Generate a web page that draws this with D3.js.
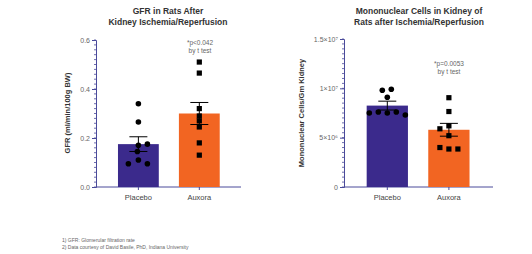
<!DOCTYPE html>
<html lang="en">
<head>
    <meta charset="UTF-8">
    <title>GFR and Mononuclear Cells</title>
    <script src="https://d3js.org/d3.v7.min.js"></script>
    <style>
        body { margin: 0; background: #fff; }
        text { font-family: "Liberation Sans", Arial, sans-serif; }
    </style>
</head>
<body>
    <script>
        const groups = ["Placebo", "Auxora"];
        const colors = ["#3b2a8c", "#f26522"];

        // GFR (ml/min/100g BW)
        const gfrMean = [0.175, 0.300];
        const gfrSem = [0.030, 0.045];
        const gfrPlacebo = [0.34, 0.265, 0.17, 0.175, 0.145, 0.11, 0.095, 0.095];
        const gfrAuxora = [0.51, 0.465, 0.32, 0.29, 0.27, 0.245, 0.18, 0.13];
        const gfrTicks = [0, 0.2, 0.4, 0.6];

        // Mononuclear cells / Gm kidney
        const cellMean = [8.25e6, 5.8e6];
        const cellSem = [0.45e6, 0.65e6];
        const cellPlacebo = [9.8e6, 9.9e6, 9.1e6, 7.5e6, 7.6e6, 7.5e6, 7.6e6, 7.3e6];
        const cellAuxora = [9.05e6, 7.65e6, 5.9e6, 6.2e6, 5.2e6, 4.0e6, 3.85e6, 3.85e6];
        const cellTicks = [0, 5e6, 1e7, 1.5e7];
        const cellTickLabels = ["0", "5×10⁶", "1×10⁷", "1.5×10⁷"];

        const footnotes = [
            "1)  GFR: Glomerular filtration rate",
            "2)  Data courtesy of David Basile, PhD, Indiana University"
        ];

        const svg = d3.select("body").append("svg")
            .attr("width", 532)
            .attr("height", 254);

        const axisColor = "#4a4a9a";

        function drawPanel(cfg) {
            const g = svg.append("g");
            const y = d3.scaleLinear().domain([0, cfg.max]).range([cfg.bottom, cfg.top]);
            const x = d3.scaleBand().domain(groups).range([cfg.left, cfg.right])
                .paddingInner(cfg.padIn).paddingOuter(cfg.padOut);

            // minor ticks
            const minor = d3.range(0, cfg.max + cfg.minorStep / 2, cfg.minorStep);
            g.selectAll(".minor").data(minor).enter().append("line")
                .attr("x1", cfg.axisX - 2).attr("x2", cfg.axisX)
                .attr("y1", d => y(d)).attr("y2", d => y(d))
                .attr("stroke", axisColor).attr("stroke-width", 0.8);

            const yAxis = g.append("g")
                .attr("transform", `translate(${cfg.axisX},0)`)
                .call(d3.axisLeft(y).tickValues(cfg.ticks).tickSize(4).tickPadding(2)
                    .tickFormat((d, i) => cfg.labels[i]));
            yAxis.select(".domain").attr("stroke", axisColor);
            yAxis.selectAll(".tick line").attr("stroke", axisColor);
            yAxis.selectAll("text").attr("fill", "#666").style("font-size", "7px");

            const xAxis = g.append("g")
                .attr("transform", `translate(0,${cfg.bottom})`)
                .call(d3.axisBottom(x).tickSize(3).tickPadding(5));
            xAxis.select(".domain").attr("stroke", axisColor)
                .attr("d", `M${cfg.axisX},0H${cfg.axisEnd}`);
            xAxis.selectAll(".tick line").attr("stroke", axisColor);
            xAxis.selectAll("text").attr("fill", "#444").style("font-size", "7.5px");

            // bars
            g.selectAll(".bar").data(groups).enter().append("rect")
                .attr("x", d => x(d))
                .attr("y", (d, i) => y(cfg.mean[i]))
                .attr("width", x.bandwidth())
                .attr("height", (d, i) => y(0) - y(cfg.mean[i]))
                .attr("fill", (d, i) => colors[i]);

            // error bars
            groups.forEach((grp, i) => {
                const cx = x(grp) + x.bandwidth() / 2;
                const hi = y(cfg.mean[i] + cfg.sem[i]);
                const lo = y(cfg.mean[i] - cfg.sem[i]);
                g.append("line").attr("x1", cx).attr("x2", cx).attr("y1", hi).attr("y2", lo)
                    .attr("stroke", "#000").attr("stroke-width", 1);
                [hi, lo].forEach(yy => g.append("line")
                    .attr("x1", cx - 9).attr("x2", cx + 9).attr("y1", yy).attr("y2", yy)
                    .attr("stroke", "#000").attr("stroke-width", 1));
            });

            // points
            const cxP = x(groups[0]) + x.bandwidth() / 2;
            const cxA = x(groups[1]) + x.bandwidth() / 2;
            g.selectAll(".pp").data(cfg.placebo).enter().append("circle")
                .attr("cx", (d, i) => cxP + cfg.jitterP[i])
                .attr("cy", d => y(d))
                .attr("r", 2.8).attr("fill", "#000");
            g.selectAll(".pa").data(cfg.auxora).enter().append("rect")
                .attr("x", (d, i) => cxA + cfg.jitterA[i] - 2.6)
                .attr("y", d => y(d) - 2.6)
                .attr("width", 5.2).attr("height", 5.2).attr("fill", "#000");

            // title
            g.append("text").attr("x", cfg.titleX).attr("y", 14)
                .attr("text-anchor", "middle").style("font-size", "8.5px").style("font-weight", "bold")
                .attr("fill", "#333")
                .selectAll("tspan").data(cfg.title).enter().append("tspan")
                .attr("x", cfg.titleX).attr("dy", (d, i) => i ? 11 : 0).text(d => d);

            // y label
            g.append("text")
                .attr("transform", `translate(${cfg.ylabX},${cfg.ylabY}) rotate(-90)`)
                .attr("text-anchor", "middle").style("font-size", "7.5px").style("font-weight", "bold")
                .attr("fill", "#333").text(cfg.ylab);

            // annotation
            g.append("text").attr("x", cfg.noteX).attr("y", cfg.noteY)
                .attr("text-anchor", "middle").style("font-size", "6.5px").attr("fill", "#666")
                .selectAll("tspan").data(cfg.note).enter().append("tspan")
                .attr("x", cfg.noteX).attr("dy", (d, i) => i ? 8 : 0).text(d => d);
        }

        drawPanel({
            max: 0.6, top: 40, bottom: 187, axisX: 96, axisEnd: 241,
            left: 99.7, right: 238, padIn: 0.33, padOut: 0.3,
            minorStep: 0.02, ticks: gfrTicks, labels: ["0.0", "0.2", "0.4", "0.6"],
            mean: gfrMean, sem: gfrSem, placebo: gfrPlacebo, auxora: gfrAuxora,
            jitterP: [0, 0, 0, 9, -1, 0, -10, 9],
            jitterA: [0, 0, 0, 0, 0, 0, 0, 0],
            title: ["GFR in Rats After", "Kidney Ischemia/Reperfusion"], titleX: 168,
            ylab: "GFR (ml/min/100g BW)", ylabX: 70, ylabY: 113,
            note: ["*p<0.042", "by t test"], noteX: 200, noteY: 45
        });

        drawPanel({
            max: 1.5e7, top: 39, bottom: 187, axisX: 344, axisEnd: 493,
            left: 348.2, right: 488, padIn: 0.33, padOut: 0.3,
            minorStep: 5e5, ticks: cellTicks, labels: cellTickLabels,
            mean: cellMean, sem: cellSem, placebo: cellPlacebo, auxora: cellAuxora,
            jitterP: [-5, 4, 0, -18, -9, 0, 9, 18],
            jitterA: [0, 0, -9, 0, 0, -9, 0, 9],
            title: ["Mononuclear Cells in Kidney of", "Rats after Ischemia/Reperfusion"], titleX: 419,
            ylab: "Mononuclear Cells/Gm Kidney", ylabX: 304, ylabY: 113,
            note: ["*p=0.0053", "by t test"], noteX: 449, noteY: 66
        });

        svg.append("g").selectAll("text").data(footnotes).enter().append("text")
            .attr("x", 62).attr("y", (d, i) => 242 + i * 6.5)
            .style("font-size", "5px").attr("fill", "#666").text(d => d);
    </script>
</body>
</html>
